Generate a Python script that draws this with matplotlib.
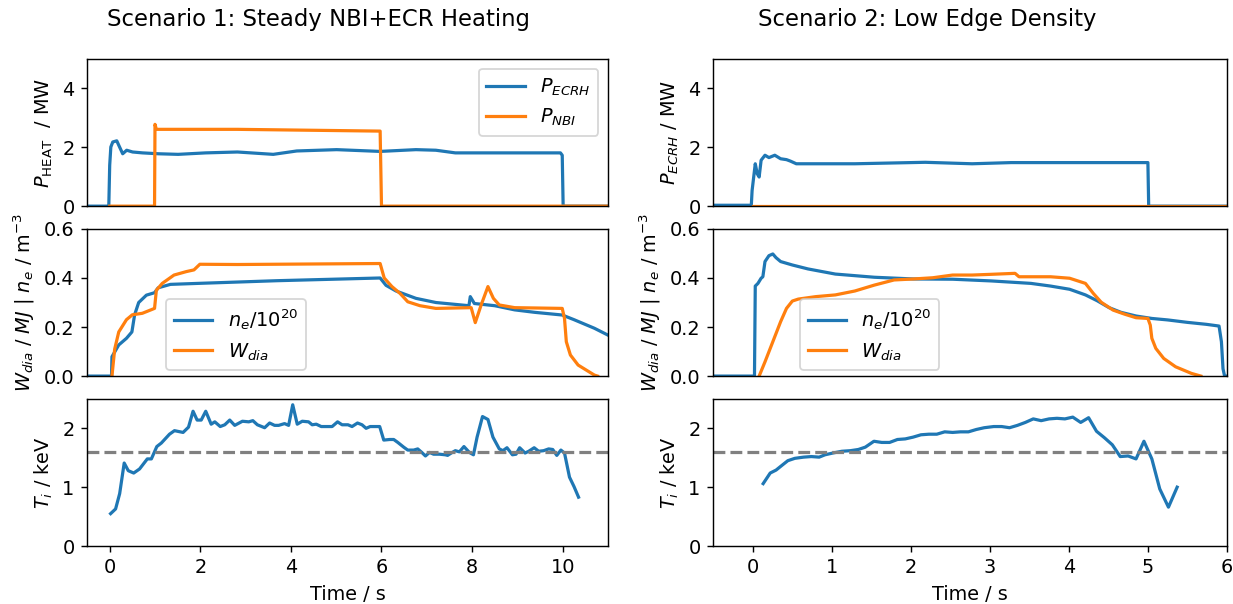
import matplotlib
matplotlib.use('Agg')
import matplotlib.pyplot as plt
import numpy as np

plt.rcParams['font.size'] = 10.8
plt.rcParams['lines.linewidth'] = 1.8

# ---- Scenario 1 data ----
t_ecrh1 = [-0.5, -0.02, 0.0, 0.025, 0.068, 0.156, 0.2, 0.287, 0.375, 0.506, 0.724, 1.074, 1.51, 2.12,
           2.82, 3.61, 4.13, 5.01, 5.97, 6.76, 7.2, 7.63, 8.94, 9.95, 9.99, 10.01, 11.0]
p_ecrh1 = [0, 0, 1.39, 2.01, 2.18, 2.22, 2.07, 1.78, 1.9, 1.84, 1.81, 1.78, 1.76, 1.81,
           1.84, 1.76, 1.875, 1.92, 1.86, 1.92, 1.9, 1.81, 1.81, 1.81, 1.73, 0, 0]
t_nbi1 = [0.0, 0.99, 1.0, 1.03, 2.82, 5.97, 6.0, 11.0]
p_nbi1 = [0, 0, 2.78, 2.61, 2.61, 2.55, 0, 0]

t_ne1 = [-0.5, 0.04, 0.05, 0.2, 0.37, 0.49, 0.55, 0.64, 0.81, 0.99, 1.07, 1.34, 1.95, 3.7, 5.97,
         6.1, 6.32, 6.76, 7.2, 7.93, 7.96, 8.05, 8.5, 8.94, 9.38, 9.99, 10.25, 10.7, 11.0]
ne1 = [0, 0, 0.079, 0.127, 0.154, 0.18, 0.25, 0.30, 0.33, 0.34, 0.36, 0.374, 0.378, 0.389, 0.40,
       0.37, 0.347, 0.317, 0.30, 0.287, 0.324, 0.296, 0.287, 0.27, 0.26, 0.249, 0.23, 0.195, 0.167]
t_w1 = [0.05, 0.11, 0.2, 0.37, 0.5, 0.72, 0.99, 1.03, 1.16, 1.42, 1.69, 1.86, 1.99, 2.82, 5.97,
        6.06, 6.23, 6.41, 6.58, 6.85, 7.2, 7.98, 8.07, 8.2, 8.35, 8.47, 8.6, 8.94, 9.99, 10.04,
        10.08, 10.17, 10.34, 10.7, 10.77]
w1 = [0, 0.11, 0.18, 0.23, 0.25, 0.256, 0.276, 0.35, 0.378, 0.412, 0.426, 0.433, 0.456, 0.455, 0.459,
      0.40, 0.365, 0.337, 0.303, 0.287, 0.276, 0.279, 0.218, 0.29, 0.365, 0.317, 0.29, 0.279, 0.276, 0.235,
      0.14, 0.086, 0.045, 0.004, 0]

t_ti1 = [0.02, 0.13, 0.22, 0.32, 0.41, 0.53, 0.66, 0.83, 0.92, 1.04, 1.14, 1.32, 1.43, 1.62, 1.74,
         1.84, 1.93, 2.02, 2.12, 2.24, 2.32, 2.44, 2.54, 2.65, 2.76, 2.93, 3.07, 3.16, 3.26, 3.42,
         3.53, 3.64, 3.73, 3.86, 3.95, 4.04, 4.14, 4.25, 4.39, 4.47, 4.56, 4.67, 4.78, 4.91, 5.03,
         5.13, 5.26, 5.35, 5.47, 5.57, 5.66, 5.75, 5.88, 5.96, 6.05, 6.18, 6.27, 6.36, 6.49, 6.58,
         6.71, 6.80, 6.89, 6.97, 7.06, 7.15, 7.28, 7.41, 7.46, 7.54, 7.63, 7.72, 7.82, 7.94, 8.03,
         8.11, 8.23, 8.35, 8.46, 8.60, 8.68, 8.77, 8.89, 8.97, 9.05, 9.17, 9.25, 9.37, 9.47, 9.58,
         9.69, 9.78, 9.87, 9.96, 10.04, 10.15, 10.25, 10.35]
ti1 = [0.55, 0.63, 0.89, 1.41, 1.28, 1.24, 1.31, 1.48, 1.48, 1.69, 1.75, 1.90, 1.96, 1.93, 2.02,
       2.29, 2.14, 2.14, 2.29, 2.07, 2.11, 2.03, 2.06, 2.14, 2.05, 2.12, 2.11, 2.13, 2.06, 2.01,
       2.09, 2.05, 2.05, 2.08, 2.05, 2.40, 2.07, 2.12, 2.11, 2.06, 2.07, 2.03, 2.03, 2.03, 2.11,
       2.06, 2.06, 2.03, 2.09, 2.06, 2.00, 2.03, 2.03, 2.03, 1.80, 1.81, 1.81, 1.76, 1.68, 1.63,
       1.63, 1.65, 1.59, 1.53, 1.59, 1.56, 1.56, 1.55, 1.54, 1.58, 1.62, 1.60, 1.69, 1.59, 1.55,
       1.85, 2.20, 2.15, 1.85, 1.65, 1.62, 1.67, 1.55, 1.56, 1.67, 1.58, 1.61, 1.67, 1.61, 1.62,
       1.65, 1.64, 1.54, 1.63, 1.58, 1.17, 1.01, 0.83]

# ---- Scenario 2 data ----
t_ecrh2 = [-0.5, -0.016, -0.006, 0.034, 0.059, 0.083, 0.108, 0.157, 0.207, 0.281, 0.355, 0.429,
           0.479, 0.553, 1.294, 2.184, 2.777, 3.272, 4.26, 5.0, 5.01, 6.0]
p_ecrh2 = [0.03, 0.03, 0.53, 1.44, 1.1, 0.99, 1.56, 1.73, 1.65, 1.73, 1.61, 1.58,
           1.53, 1.44, 1.44, 1.49, 1.44, 1.48, 1.48, 1.48, 0, 0]
t_nbi2 = [0.0, 6.0]
p_nbi2 = [0, 0]

t_ne2 = [-0.5, 0.024, 0.034, 0.068, 0.108, 0.13, 0.157, 0.207, 0.256, 0.296, 0.355, 0.503, 0.70,
         1.047, 1.541, 2.036, 2.53, 3.02, 3.52, 3.77, 4.01, 4.21, 4.36, 4.51, 4.66, 4.85, 5.05,
         5.25, 5.50, 5.74, 5.90, 5.93, 5.95, 5.97, 6.0]
ne2 = [0, 0, 0.367, 0.378, 0.399, 0.405, 0.467, 0.491, 0.498, 0.483, 0.467, 0.453, 0.437,
       0.416, 0.403, 0.396, 0.395, 0.388, 0.378, 0.367, 0.354, 0.331, 0.307, 0.279, 0.26, 0.245, 0.235,
       0.229, 0.219, 0.211, 0.204, 0.14, 0.03, 0, 0]
t_w2 = [0.083, 0.157, 0.256, 0.355, 0.429, 0.503, 0.578, 0.80, 1.047, 1.294, 1.54, 1.79, 2.036,
        2.28, 2.53, 2.777, 3.02, 3.32, 3.37, 3.77, 4.01, 4.21, 4.31, 4.41, 4.56, 4.71, 4.85, 5.0,
        5.03, 5.05, 5.10, 5.20, 5.35, 5.55, 5.67]
w2 = [0, 0.058, 0.14, 0.222, 0.276, 0.306, 0.314, 0.324, 0.331, 0.347, 0.371, 0.392, 0.396,
      0.401, 0.412, 0.412, 0.415, 0.419, 0.405, 0.405, 0.399, 0.378, 0.337, 0.301, 0.269, 0.252, 0.238,
      0.235, 0.208, 0.154, 0.113, 0.072, 0.038, 0.011, 0]

t_ti2 = [0.134, 0.223, 0.297, 0.371, 0.446, 0.535, 0.644, 0.743, 0.842, 0.916, 1.015, 1.129, 1.238,
         1.337, 1.426, 1.535, 1.634, 1.733, 1.832, 1.931, 2.03, 2.13, 2.23, 2.33, 2.43, 2.53, 2.63,
         2.73, 2.83, 2.93, 3.05, 3.15, 3.25, 3.35, 3.45, 3.55, 3.65, 3.75, 3.85, 3.95, 4.05, 4.15,
         4.25, 4.35, 4.45, 4.55, 4.65, 4.75, 4.85, 4.95, 5.05, 5.15, 5.26, 5.37]
ti2 = [1.06, 1.24, 1.29, 1.37, 1.45, 1.49, 1.51, 1.52, 1.51, 1.55, 1.58, 1.61, 1.62,
       1.64, 1.68, 1.78, 1.76, 1.76, 1.81, 1.82, 1.85, 1.89, 1.90, 1.90, 1.94, 1.93, 1.94,
       1.94, 1.98, 2.01, 2.03, 2.03, 2.01, 2.05, 2.10, 2.16, 2.13, 2.16, 2.17, 2.16, 2.19, 2.10,
       2.18, 1.95, 1.84, 1.72, 1.52, 1.53, 1.48, 1.78, 1.48, 0.97, 0.66, 1.00]

ti_ref = 1.6

fig = plt.figure(figsize=(1233 / 128, 604 / 128), dpi=128)
gs_l = fig.add_gridspec(3, 1, left=0.0706, right=0.4931, top=0.9023, bottom=0.096, hspace=0.155)
gs_r = fig.add_gridspec(3, 1, left=0.5783, right=0.9951, top=0.9023, bottom=0.096, hspace=0.155)

ax1 = fig.add_subplot(gs_l[0])
ax2 = fig.add_subplot(gs_l[1], sharex=ax1)
ax3 = fig.add_subplot(gs_l[2], sharex=ax1)
ax4 = fig.add_subplot(gs_r[0])
ax5 = fig.add_subplot(gs_r[1], sharex=ax4)
ax6 = fig.add_subplot(gs_r[2], sharex=ax4)

# scenario 1
ax1.plot(t_ecrh1, p_ecrh1, label='$P_{ECRH}$')
ax1.plot(t_nbi1, p_nbi1, label='$P_{NBI}$')
ax1.set_ylim(0, 5)
ax1.set_ylabel(r'$P_{\mathrm{HEAT}}$  / MW')
ax1.legend(loc='upper right')

ax2.plot(t_ne1, ne1, label='$n_e/10^{20}$')
ax2.plot(t_w1, w1, label='$W_{dia}$')
ax2.set_ylim(0, 0.6)
ax2.set_yticks([0.0, 0.2, 0.4, 0.6])
ax2.set_ylabel('$W_{dia}$ / $MJ$ | $n_e$ / m$^{-3}$')
ax2.legend(loc='lower left', bbox_to_anchor=(0.152, 0.04), borderaxespad=0)

ax3.plot(t_ti1, ti1)
ax3.axhline(ti_ref, color='gray', ls='--')
ax3.set_ylim(0, 2.5)
ax3.set_ylabel('$T_i$ / keV')
ax3.set_xlabel('Time / s')
ax3.set_xlim(-0.5, 11)

# scenario 2
ax4.plot(t_ecrh2, p_ecrh2)
ax4.plot(t_nbi2, p_nbi2)
ax4.set_ylim(0, 5)
ax4.set_ylabel('$P_{ECRH}$ / MW')

ax5.plot(t_ne2, ne2, label='$n_e/10^{20}$')
ax5.plot(t_w2, w2, label='$W_{dia}$')
ax5.set_ylim(0, 0.6)
ax5.set_yticks([0.0, 0.2, 0.4, 0.6])
ax5.set_ylabel('$W_{dia}$ / $MJ$ | $n_e$ / m$^{-3}$')
ax5.legend(loc='lower left', bbox_to_anchor=(0.169, 0.04), borderaxespad=0)

ax6.plot(t_ti2, ti2)
ax6.axhline(ti_ref, color='gray', ls='--')
ax6.set_ylim(0, 2.5)
ax6.set_ylabel('$T_i$ / keV')
ax6.set_xlabel('Time / s')
ax6.set_xlim(-0.5, 6)

for ax in [ax1, ax2, ax4, ax5]:
    ax.tick_params(labelbottom=False, bottom=False)

fig.text(0.2583, 0.967, 'Scenario 1: Steady NBI+ECR Heating', ha='center', va='center', fontsize=12.8)
fig.text(0.752, 0.967, 'Scenario 2: Low Edge Density', ha='center', va='center', fontsize=12.8)

fig.savefig('out.png', dpi=128)
